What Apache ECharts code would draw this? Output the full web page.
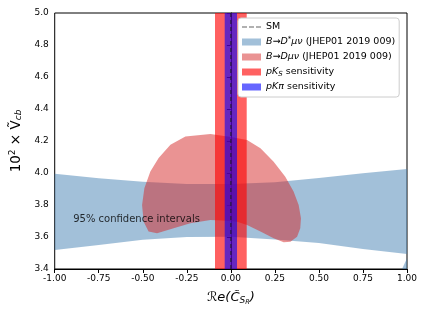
<!DOCTYPE html>
<html>
<head>
<meta charset="utf-8">
<script src="https://cdn.jsdelivr.net/npm/echarts@6/dist/echarts.min.js"></script>
<style>
  html, body { margin: 0; padding: 0; background: #fff; }
  #chart { width: 427px; height: 320px; }
</style>
</head>
<body>
<div id="chart"></div>
<script>
// B -> D* mu nu band (upper edge left to right, lower edge left to right)
const dstarX = [-1.0, -0.75, -0.5, -0.25, 0.0, 0.25, 0.5, 0.75, 1.0];
const dstarUpper = [3.995, 3.967, 3.946, 3.932, 3.932, 3.942, 3.968, 3.998, 4.025];
const dstarLower = [3.519, 3.55, 3.583, 3.6, 3.602, 3.585, 3.562, 3.525, 3.494];
// small piece of the same contour in the lower right corner
const dstarCornerX = [0.972, 1.0, 1.0];
const dstarCornerY = [3.4, 3.467, 3.4];

// B -> D mu nu contour
const dX = [-0.258, -0.116, 0.0, 0.092, 0.168, 0.243, 0.309, 0.356, 0.385, 0.398, 0.394, 0.376, 0.338, 0.30, 0.243, 0.168, 0.092, 0.035, -0.05, -0.116, -0.23, -0.325, -0.419, -0.467, -0.495, -0.504, -0.491, -0.457, -0.41, -0.343];
const dY = [4.228, 4.243, 4.225, 4.207, 4.155, 4.071, 3.977, 3.884, 3.80, 3.717, 3.655, 3.602, 3.571, 3.567, 3.592, 3.634, 3.675, 3.696, 3.703, 3.706, 3.686, 3.655, 3.623, 3.634, 3.696, 3.80, 3.905, 4.009, 4.093, 4.176];

// sensitivity bands [low, high]
const pKsBand = [-0.09, 0.09];
const pKpiBand = [-0.035, 0.035];

const smX = [0, 0];
const smY = [3.4, 5.0];

const noteX = [-0.895];
const noteY = [3.71];
const noteText = '95% confidence intervals';

const names = {
    sm: 'SM',
    dstar: 'B→D*μν (JHEP01 2019 009)',
    d: 'B→Dμν (JHEP01 2019 009)',
    pks: 'pKS sensitivity',
    pkpi: 'pKπ sensitivity',
};
const legendRich = {
    [names.sm]: 'SM',
    [names.dstar]: '{i|B}→{i|D}{sup|*}{i|μν} (JHEP01 2019 009)',
    [names.d]: '{i|B}→{i|Dμν} (JHEP01 2019 009)',
    [names.pks]: '{i|pK}{sub|S} sensitivity',
    [names.pkpi]: '{i|pKπ} sensitivity',
};

const yMin = 3.4, yMax = 5.0;
const smColor = 'rgba(30,30,30,0.8)';

const polySeries = (name, polys, color, z) => ({
    type: 'custom',
    name,
    coordinateSystem: 'cartesian2d',
    clip: true,
    silent: true,
    z,
    itemStyle: { color },
    data: [[polys[0][0][0], polys[0][1][0]]],
    encode: { x: 0, y: 1 },
    renderItem: (params, api) => ({
        type: 'group',
        children: polys.map(([xs, ys]) => ({
            type: 'polygon',
            shape: { points: xs.map((x, i) => api.coord([x, ys[i]])) },
            style: { fill: color },
        })),
    }),
});

const bandSeries = (name, band, color, z) =>
    polySeries(name, [[[band[0], band[1], band[1], band[0]], [yMin, yMin, yMax, yMax]]], color, z);

const chart = echarts.init(document.getElementById('chart'));
chart.setOption({
    animation: false,
    textStyle: { fontFamily: 'DejaVu Sans' },
    grid: {
        left: 54, right: 20, top: 13, bottom: 51,
        show: true, borderColor: '#000', borderWidth: 1,
    },
    legend: {
        orient: 'vertical',
        left: 238, top: 18,
        backgroundColor: '#fff',
        borderColor: '#ccc', borderWidth: 1, borderRadius: 3,
        padding: [3, 4, 4, 4],
        itemWidth: 19, itemHeight: 7, itemGap: 3,
        data: [
            { name: names.sm, icon: 'path://M0,0h5v1.2h-5zM7,0h5v1.2h-5zM14,0h5v1.2h-5z', itemStyle: { color: 'rgba(60,60,60,0.8)' } },
            { name: names.dstar, icon: 'rect' },
            { name: names.d, icon: 'rect' },
            { name: names.pks, icon: 'rect' },
            { name: names.pkpi, icon: 'rect' },
        ],
        formatter: (n) => legendRich[n],
        textStyle: {
            fontSize: 9.5, color: '#000', lineHeight: 12,
            rich: {
                i: { fontStyle: 'italic', fontSize: 9.5 },
                sup: { fontSize: 7, verticalAlign: 'top', padding: [0, 0, 4, 0] },
                sub: { fontStyle: 'italic', fontSize: 7, padding: [5, 0, 0, 0] },
            },
        },
    },
    xAxis: {
        type: 'value', min: -1, max: 1, interval: 0.25,
        name: '{n|ℛe(C̃}{s|S}{ss|R}{n|)}',
        nameLocation: 'middle', nameGap: 20,
        nameTextStyle: {
            rich: {
                n: { fontSize: 13, fontStyle: 'italic', color: '#000' },
                s: { fontSize: 9, fontStyle: 'italic', color: '#000', padding: [6, 0, 0, 0] },
                ss: { fontSize: 6.5, fontStyle: 'italic', color: '#000', padding: [10, 0, 0, 0] },
            },
        },
        axisLine: { lineStyle: { color: '#000' } },
        axisTick: { length: 4, lineStyle: { color: '#000' } },
        axisLabel: { fontSize: 9, color: '#000', margin: 5, formatter: (v) => v.toFixed(2) },
        splitLine: { show: false },
    },
    yAxis: {
        type: 'value', min: yMin, max: yMax, interval: 0.2,
        name: '{n|10}{sup|2}{n| × Ṽ}{s|cb}',
        nameLocation: 'middle', nameGap: 28, nameRotate: 90,
        nameTextStyle: {
            rich: {
                n: { fontSize: 13.5, color: '#000' },
                sup: { fontSize: 9, color: '#000', padding: [0, 0, 7, 0] },
                s: { fontSize: 9, fontStyle: 'italic', color: '#000', padding: [6, 0, 0, 0] },
            },
        },
        axisLine: { lineStyle: { color: '#000' } },
        axisTick: { length: 4, lineStyle: { color: '#000' } },
        axisLabel: { fontSize: 9, color: '#000', margin: 6, formatter: (v) => v.toFixed(1) },
        splitLine: { show: false },
    },
    series: [
        polySeries(names.dstar, [
            [dstarX.concat(dstarX.slice().reverse()), dstarUpper.concat(dstarLower.slice().reverse())],
            [dstarCornerX, dstarCornerY],
        ], 'rgba(70,130,180,0.5)', 1),
        polySeries(names.d, [[dX, dY]], 'rgba(214,39,40,0.5)', 2),
        bandSeries(names.pks, pKsBand, 'rgba(255,0,0,0.62)', 3),
        bandSeries(names.pkpi, pKpiBand, 'rgba(0,0,255,0.6)', 4),
        {
            type: 'custom',
            name: names.sm,
            coordinateSystem: 'cartesian2d',
            silent: true,
            z: 10,
            itemStyle: { color: smColor },
            data: [[smX[0], smY[0]]],
            encode: { x: 0, y: 1 },
            renderItem: (params, api) => {
                const a = api.coord([smX[0], smY[0]]);
                const b = api.coord([smX[1], smY[1]]);
                return {
                    type: 'line',
                    shape: { x1: a[0], y1: a[1], x2: b[0], y2: b[1] },
                    style: { stroke: smColor, lineWidth: 1.2, lineDash: [4, 3], fill: null },
                };
            },
        },
        {
            type: 'scatter',
            data: noteX.map((x, i) => [x, noteY[i]]),
            symbolSize: 0,
            silent: true,
            z: 11,
            label: {
                show: true, position: 'right', distance: 0,
                formatter: noteText, fontSize: 10, color: '#000',
            },
        },
    ],
});
</script>
</body>
</html>
